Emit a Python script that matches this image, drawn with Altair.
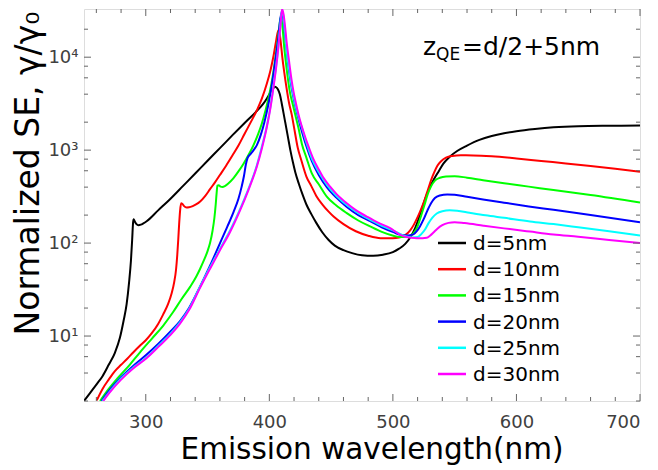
import altair as alt
import pandas as pd

# ---------------- data ----------------
wl_5 = [250, 255, 260, 265, 270, 275, 279, 282, 284.5, 286.5, 288, 289, 289.7, 290.2, 291, 292.5, 294, 296,
        298, 300.7, 310, 320, 330, 340, 350, 360, 370, 380, 390, 395, 398, 401, 403, 404.5, 405.5, 407,
        408.5, 410, 411.5, 413, 415, 417, 419, 421, 424, 427, 430, 434, 438, 443, 448, 453, 460, 467, 475,
        484, 492, 500, 505, 510, 514, 518, 521, 524, 527, 530, 533, 537, 541, 546, 552, 560, 570, 580, 590,
        600, 615, 630, 650, 675, 700]
se_5 = [2.0, 2.45, 3.0, 3.7, 4.9, 6.6, 9.5, 14.5, 22, 38, 65, 110, 165, 180, 172, 160, 156, 158,
        163, 172, 225, 300, 410, 560, 770, 1050, 1440, 1960, 2650, 3140, 3600, 4200, 4600, 4800, 4750, 4500,
        4000, 3200, 2500, 1950, 1400, 1000, 750, 580, 430, 330, 260, 205, 165, 130, 108, 94, 84, 78, 74,
        73, 75, 80, 87, 98, 115, 145, 185, 245, 320, 400, 480, 590, 720, 850, 980, 1120, 1290, 1420, 1520,
        1600, 1690, 1760, 1810, 1830, 1840]

wl_10 = [260.3, 265, 270, 275, 280, 285, 290, 295, 300, 305, 310, 314, 318, 321, 323, 324.5, 325.5, 326.3,
         327, 327.8, 328.6, 329.5, 331, 333, 335, 338, 341, 344, 348, 352, 356, 360, 365, 370, 375, 380,
         385, 390, 394, 398, 401, 403.5, 405.5, 407.3, 408.5, 409.5, 410.5, 412, 414, 416, 418, 420, 423,
         426, 430, 434, 438, 443, 448, 452, 460, 470, 480, 490, 500, 505, 510, 514, 517, 520, 523, 526,
         528.5, 531, 533.5, 536, 539, 543, 548, 555, 565, 580, 600, 620, 640, 660, 680, 700]
se_10 = [2.03, 2.7, 3.4, 4.2, 4.9, 5.7, 6.7, 7.8, 9.0, 10.8, 13.5, 17, 22, 29, 38, 52, 75, 110,
         160, 225, 268, 265, 250, 242, 243, 250, 262, 280, 320, 380, 450, 540, 680, 870, 1120, 1500,
         2000, 2700, 3600, 5200, 7300, 10500, 15000, 19500, 17500, 13500, 10000, 7000, 4600, 3200, 2455, 1760, 1060,
         770, 520, 410, 322, 260, 218, 193, 160, 134, 120, 113, 113, 115, 122, 137, 158, 190, 235, 300,
         380, 480, 580, 680, 760, 830, 865, 880, 878, 860, 815, 765, 720, 675, 630, 585]

wl_15 = [263, 270, 277, 287, 295, 305, 314, 322, 329, 336, 341, 344, 347, 350, 352, 354, 355.5, 356.6, 357.3,
         358, 359, 360.5, 362, 364, 367, 371, 375, 379, 383, 387, 391, 394, 397, 400, 402.5, 405, 407.5,
         409.2, 410.5, 412, 414, 416.8, 419, 421, 423.5, 426.3, 430, 434.4, 440, 446.5, 454, 462.7, 472,
         481.6, 491, 500.4, 506, 511, 515, 518, 520.5, 523, 525.5, 528, 531, 534, 538, 543, 550, 560, 573,
         590, 610, 630, 660, 700]
se_15 = [2.0, 2.7, 3.5, 4.9, 6.6, 9.4, 12.9, 18, 25, 34, 44, 53, 65, 82, 100, 135, 185, 260, 340,
         415, 420, 405, 402, 410, 440, 500, 590, 710, 880, 1120, 1500, 1950, 2700, 4000, 6000, 10000, 18000,
         27000, 22000, 13000, 7500, 4100, 3100, 2400, 1750, 1175, 830, 561, 430, 316, 255, 210, 175,
         151, 132, 120, 116, 116, 122, 135, 158, 200, 255, 330, 410, 470, 505, 522, 525, 505, 475,
         440, 405, 372, 330, 274]

wl_20 = [264.3, 270, 280, 290, 300, 310, 320, 327.7, 335, 343.9, 352, 360.1, 366, 371, 375, 377.5, 379.5,
         381, 382.5, 384.5, 387, 390, 393, 396, 399, 402, 404.5, 407, 409.8, 411.3, 413, 415, 416.8, 419,
         421, 423.5, 426.3, 430, 434.4, 440, 446.5, 454, 462.7, 472, 481.6, 491, 500.4, 506, 512, 516.6,
         519.5, 522, 525, 528, 531, 534, 538, 544, 550, 560, 573, 590, 610, 630, 660, 700]
se_20 = [2.0, 2.55, 3.6, 4.8, 6.2, 8.2, 11.2, 14.5, 20, 34, 57, 100, 150, 215, 300, 400, 530,
         700, 830, 900, 990, 1140, 1450, 2000, 3000, 5000, 8500, 15000, 30000, 26000, 16000, 9000, 6000, 4000,
         3000, 2200, 1600, 1100, 760, 540, 400, 310, 245, 200, 172, 148, 131, 123, 121, 124,
         135, 152, 182, 225, 270, 305, 325, 334, 332, 315, 295, 272, 248, 228, 200, 168]

wl_25 = [265, 270, 280, 290, 300.8, 310, 320, 327.7, 335, 343.9, 352, 360.1, 368, 376.3, 383, 389.8, 394,
         397.9, 401, 403.3, 405.5, 407.5, 409, 410.1, 411.3, 412.5, 414, 416, 418, 420.9, 423.5, 426.3, 430,
         434.4, 440, 446.5, 454, 462.7, 472, 481.6, 491, 500.4, 506, 511, 516, 520, 523, 526, 529, 532,
         535.5, 540, 546, 552, 562, 575, 590, 611, 630, 650, 675, 700]
se_25 = [2.0, 2.45, 3.5, 4.6, 5.9, 7.8, 10.6, 14, 19.5, 34, 55, 87, 135, 232, 380, 680, 1100,
         1800, 3000, 4900, 8000, 14000, 23000, 32000, 28000, 20000, 12000, 7500, 5000, 3150, 2300, 1750, 1200,
         810, 580, 425, 325, 257, 210, 178, 153, 136, 125, 118, 115, 116, 125, 140, 165, 188,
         208, 220, 225, 223, 212, 199, 187, 171, 160, 148, 134, 121]

wl_30 = [265.6, 270, 280, 290, 300.8, 310, 320, 327.7, 335, 343.9, 352, 360.1, 368, 376.3, 383, 389.8, 394,
         397.9, 401, 403.3, 405.5, 407.5, 409, 410.3, 411.5, 412.8, 414, 416, 418, 419.5, 421.5, 423.5, 426,
         429, 432, 435.7, 440, 444, 449.2, 455, 462.7, 470, 478.9, 488, 497.8, 504.5, 510, 515, 519.3, 524,
         527.4, 530, 532.8, 536, 540, 545, 550, 558, 573.3, 590, 611, 630, 650, 675, 700]
se_30 = [2.0, 2.4, 3.4, 4.5, 5.8, 7.6, 10.3, 13.6, 19, 33, 53, 84, 130, 225, 370, 660, 1050,
         1750, 2900, 4700, 7700, 13500, 22000, 33000, 29000, 21000, 14500, 9000, 5700, 4300, 3200, 2455, 1850,
         1384, 1070, 800, 620, 500, 404, 330, 268, 226, 193, 166, 145, 126, 117, 114, 113, 113,
         114, 120, 130, 143, 156, 165, 168, 164, 154, 144, 133, 124, 117, 108, 100]

series_labels = ["d=5nm", "d=10nm", "d=15nm", "d=20nm", "d=25nm", "d=30nm"]
series_colors = ["#000000", "#ff0000", "#00ff00", "#0000ff", "#00ffff", "#ff00ff"]

x_major = [300, 400, 500, 600, 700]
x_minor = [260, 280, 320, 340, 360, 380, 420, 440, 460, 480, 520, 540, 560, 580, 620, 640, 660, 680]
y_major = [10, 100, 1000, 10000]
y_minor = [2, 4, 6, 8, 20, 40, 60, 80, 200, 400, 600, 800, 2000, 4000, 6000, 8000, 20000]
y_labels = ["10¹", "10²", "10³", "10⁴"]
annotation = ["z", "QE", "=d/2+5nm"]

# ---------------- build ----------------
W, H = 556, 392
FONT = "DejaVu Sans"
FRAME = "#666666"
LABEL = "#404040"

rows = []
for lab, wl, se in zip(series_labels, [wl_5, wl_10, wl_15, wl_20, wl_25, wl_30],
                       [se_5, se_10, se_15, se_20, se_25, se_30]):
    for a, b in zip(wl, se):
        rows.append({"wl": a, "se": b, "d": lab})
df = pd.DataFrame(rows)

xs = alt.Scale(domain=[250, 700], nice=False, zero=False)
ys = alt.Scale(type="log", domain=[2, 33000], nice=False)
cs = alt.Scale(domain=series_labels, range=series_colors)

label_expr = " : ".join(f"datum.value == {v} ? '{l}'" for v, l in zip(y_major, y_labels)) + " : ''"

x_axis = alt.Axis(
    values=x_major, format="d", ticks=False, tickSize=0, domain=False, grid=False,
    labelPadding=12, labelFontSize=18, labelFont=FONT, labelColor=LABEL,
    title="Emission wavelength(nm)", titleFontSize=29.5, titleFont=FONT,
    titleFontWeight="normal", titleColor="black", titleX=287.5, titleY=57,
    titleBaseline="alphabetic", titleAlign="center")

y_axis = alt.Axis(
    values=y_major, labelExpr=label_expr, ticks=False, tickSize=0, domain=False, grid=False,
    labelPadding=6, labelFontSize=18, labelFont=FONT, labelColor=LABEL,
    labelBaseline="middle", labelOverlap=False,
    title="Normalized SE, γ/γ₀", titleFontSize=33, titleFont=FONT,
    titleFontWeight="normal", titleColor="black", titleX=-46, titleY=164,
    titleAngle=270, titleBaseline="alphabetic", titleAlign="center")

lines = alt.Chart(df).mark_line(strokeWidth=2, clip=True, interpolate="monotone").encode(
    x=alt.X("wl:Q", scale=xs, axis=x_axis),
    y=alt.Y("se:Q", scale=ys, axis=y_axis),
    color=alt.Color("d:N", scale=cs, legend=None),
)


def xticks(vals, y0, y1):
    return alt.Chart(pd.DataFrame({"wl": vals})).mark_rule(color=FRAME, strokeWidth=1).encode(
        x=alt.X("wl:Q", scale=xs, axis=x_axis), y=alt.value(y0), y2=alt.value(y1))


def yticks(vals, x0, x1):
    return alt.Chart(pd.DataFrame({"v": vals})).mark_rule(color=FRAME, strokeWidth=1).encode(
        y=alt.Y("v:Q", scale=ys, axis=None), x=alt.value(x0), x2=alt.value(x1))


ticks = [
    xticks(x_major, H, H - 7), xticks(x_minor, H, H - 4),
    xticks(x_major, 0, 7), xticks(x_minor, 0, 4),
    yticks(y_major, 0, 7), yticks(y_minor, 0, 4),
    yticks(y_major, W, W - 7), yticks(y_minor, W, W - 4),
]

leg_df = pd.DataFrame({"d": series_labels})
leg_y = alt.Y("d:N", scale=alt.Scale(type="point", domain=series_labels, range=[234, 365], padding=0),
              axis=None)
leg_rule = alt.Chart(leg_df).mark_rule(strokeWidth=2.5).encode(
    x=alt.value(354), x2=alt.value(382), y=leg_y, color=alt.Color("d:N", scale=cs, legend=None))
leg_text = alt.Chart(leg_df).mark_text(align="left", baseline="alphabetic", dy=7, fontSize=20,
                                       font=FONT, color="black").encode(
    x=alt.value(389), y=leg_y, text="d:N")


def ann(txt, x, y, size):
    return alt.Chart(pd.DataFrame({"t": [txt]})).mark_text(
        align="left", baseline="alphabetic", fontSize=size, font=FONT, color="black").encode(
        x=alt.value(x), y=alt.value(y), text="t:N")


anns = [ann(annotation[0], 339, 46, 25), ann(annotation[1], 352, 51, 17), ann(annotation[2], 378, 46, 25)]

chart = alt.layer(lines, *ticks, leg_rule, leg_text, *anns).resolve_scale(y="independent").properties(
    width=W, height=H,
    autosize=alt.AutoSizeParams(type="none"),
    padding={"left": 76, "top": 1, "right": 10, "bottom": 66},
).configure_view(stroke=FRAME, strokeWidth=1).configure(font=FONT, background="white")

chart.save("out.html", embed_options={"renderer": "svg", "actions": False})
